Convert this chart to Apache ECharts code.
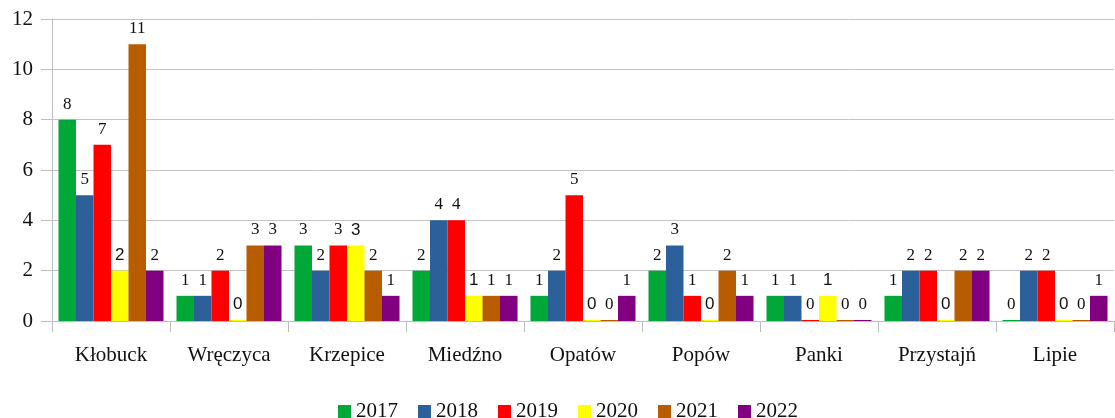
<!DOCTYPE html>
<html>
<head>
<meta charset="utf-8">
<script src="https://cdn.jsdelivr.net/npm/echarts@6/dist/echarts.min.js"></script>
<style>
  html, body { margin: 0; padding: 0; background: #fff; }
  #chart { width: 1115px; height: 418px; }
</style>
</head>
<body>
<div id="chart"></div>
<script>
  // gminy
  const categories = ['Kłobuck', 'Wręczyca', 'Krzepice', 'Miedźno', 'Opatów', 'Popów', 'Panki', 'Przystajń', 'Lipie']
  const years = ['2017', '2018', '2019', '2020', '2021', '2022']
  const colors = ['#00A838', '#2B609B', '#FF0000', '#FFFF00', '#B85C00', '#800080']

  const v2017 = [8, 1, 3, 2, 1, 2, 1, 1, 0]
  const v2018 = [5, 1, 2, 4, 2, 3, 1, 2, 2]
  const v2019 = [7, 2, 3, 4, 5, 1, 0, 2, 2]
  const v2020 = [2, 0, 3, 1, 0, 0, 1, 0, 0]
  const v2021 = [11, 3, 2, 1, 0, 2, 0, 2, 0]
  const v2022 = [2, 3, 1, 1, 1, 1, 0, 2, 1]
  const values = [v2017, v2018, v2019, v2020, v2021, v2022]

  const serif = '"Liberation Serif", "DejaVu Serif", serif'

  let myChart = echarts.init(document.getElementById('chart'))
  myChart.setOption({
    animation: false,
    color: colors,
    textStyle: { fontFamily: serif },
    grid: { left: 52, right: 1, top: 19, bottom: 97 },
    legend: {
      top: 396,
      left: 333,
      itemWidth: 13,
      itemHeight: 13,
      itemGap: 20,
      icon: 'rect',
      textStyle: { fontFamily: serif, fontSize: 21, color: '#111' },
      data: years
    },
    xAxis: {
      type: 'category',
      data: categories,
      axisLine: { lineStyle: { color: '#bdbdbd', width: 1 } },
      axisTick: { show: true, length: 11, lineStyle: { color: '#bdbdbd' } },
      axisLabel: { fontFamily: serif, fontSize: 21, color: '#111', margin: 24 }
    },
    yAxis: {
      type: 'value',
      min: 0,
      max: 12,
      interval: 2,
      axisLine: { show: true, lineStyle: { color: '#bdbdbd' } },
      axisTick: { show: true, length: 11, lineStyle: { color: '#bdbdbd' } },
      splitLine: { lineStyle: { color: '#c4c4c4' } },
      axisLabel: { fontFamily: serif, fontSize: 21, color: '#111', margin: 19 }
    },
    series: years.map((y, i) => ({
      name: y,
      type: 'bar',
      data: values[i],
      barGap: '0%',
      barCategoryGap: '11%',
      barMinHeight: 1,
      label: {
        show: true,
        position: 'top',
        distance: 7,
        fontSize: 17,
        color: '#111',
        fontFamily: y === '2020' ? '"Liberation Sans", Arial, sans-serif' : serif
      }
    }))
  })
</script>
</body>
</html>
